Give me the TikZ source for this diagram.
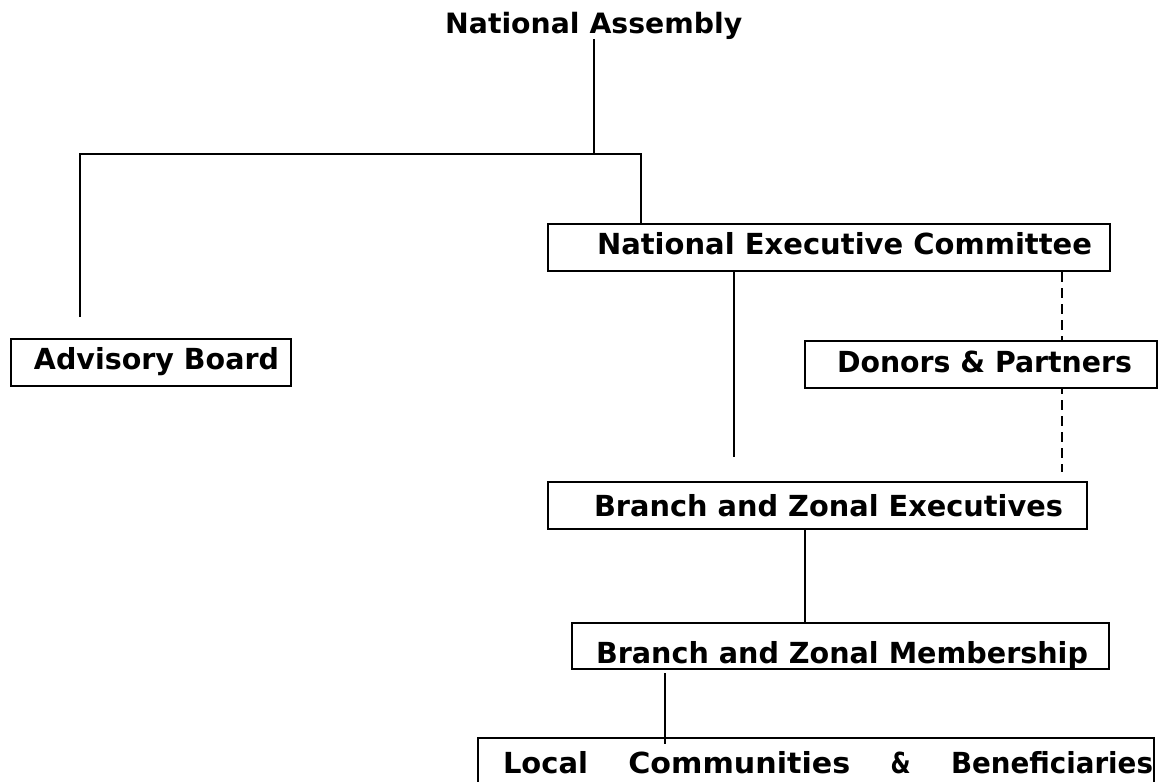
\documentclass[tikz,border=0pt]{standalone}
\usepackage{fontspec}
\setmainfont{DejaVu Sans}
\usepackage{graphicx}
\newcommand{\fw}[2]{\resizebox{#1pt}{\height}{#2}}
\tikzset{
  orgbox/.style={draw=black, line width=2pt, fill=white, inner sep=0pt, anchor=north west,
    font=\fontsize{29}{35}\selectfont\bfseries},
  titletext/.style={inner sep=0pt, anchor=base west, font=\fontsize{28}{34}\selectfont\bfseries},
  link/.style={draw=black, line width=1.7pt},
  dashlink/.style={draw=black, line width=1.7pt, dash pattern=on 10pt off 6pt},
}
\begin{document}
\begin{tikzpicture}[x=1pt,y=-1pt]
\useasboundingbox (0,0) rectangle (1163,782);
\clip (0,0) rectangle (1163,782);

\node[titletext] (na) at (445,33) {\fw{297}{National Assembly}};

\node[orgbox, text height=30pt, text depth=17pt] (nec) at (547,223)
  {\makebox[562pt][l]{\hspace*{49pt}\fw{495}{National Executive Committee}}};

\node[orgbox, text height=30pt, text depth=17pt] (ab) at (10,338)
  {\makebox[280pt][l]{\hspace*{23pt}\fw{245}{Advisory Board}}};

\coordinate (hl) at (80,154);
\coordinate (hr) at (641,154);
\coordinate (abend) at (80,317);
\coordinate (necend) at (734,457);
\coordinate (dend) at (1062,472);

\draw[link] (na.south) -- (na.south |- hl);
\draw[link] (abend) -- (hl) -- (hr) -- (hr |- nec.north);
\draw[link] (necend |- nec.south) -- (necend);
\draw[dashlink] (dend |- nec.south) -- (dend);

\node[orgbox, text height=31pt, text depth=16pt] (dp) at (804,340)
  {\makebox[352pt][l]{\hspace*{32pt}\fw{295}{Donors \& Partners}}};

\node[orgbox, text height=34pt, text depth=13pt] (bze) at (547,481)
  {\makebox[539pt][l]{\hspace*{46pt}\fw{469}{Branch and Zonal Executives}}};

\node[orgbox, text height=40pt, text depth=6pt] (bzm) at (571,622)
  {\makebox[537pt][l]{\hspace*{24pt}\fw{492}{Branch and Zonal Membership}}};

\node[orgbox, text height=35pt, text depth=31pt] (lcb) at (477,737)
  {\makebox[676pt][l]{\hspace*{25pt}\makebox[650pt]{\fw{85}{Local}\hfill\fw{222}{Communities}\hfill\fw{20}{\&}\hfill\fw{202}{Beneficiaries}}}};

\coordinate (bz) at (805,0);
\draw[link] (bz |- bze.south) -- (bz |- bzm.north);

\coordinate (m1) at (665,673);
\coordinate (m2) at (665,744);
\draw[link] (m1) -- (m2);
\end{tikzpicture}
\end{document}
